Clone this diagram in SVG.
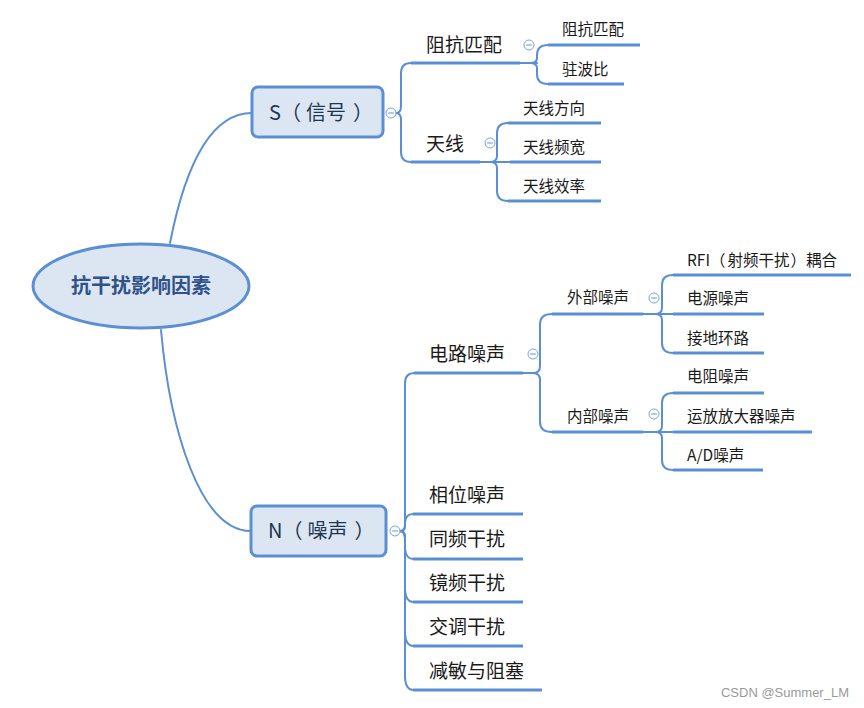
<svg xmlns="http://www.w3.org/2000/svg" width="864" height="708" viewBox="0 0 864 708">
<style>
.c{fill:none;stroke:#5b8fd4;stroke-width:2;stroke-linecap:round}
.u{fill:none;stroke:#5b8fd4;stroke-width:3;stroke-linecap:butt}
.node{fill:#dce6f2;stroke:#5b8fd4;stroke-width:3}
.t1{font-family:"Noto Sans CJK SC","Microsoft YaHei",sans-serif;font-size:19px;fill:#1a1a1a}
.t2{font-family:"Noto Sans CJK SC","Microsoft YaHei",sans-serif;font-size:15.5px;fill:#1a1a1a}
.tn{font-family:"Noto Sans CJK SC","Microsoft YaHei",sans-serif;font-size:20px;fill:#1e3550}
.tc{font-family:"Noto Sans CJK SC","Microsoft YaHei",sans-serif;font-size:20px;font-weight:bold;fill:#2f5288}
.col{fill:#fff;stroke:#7aa3db;stroke-width:1}
.colm{stroke:#7aa3db;stroke-width:1.2}
</style>
<defs>
<g id="collapse"><circle class="col" cx="0" cy="0" r="5"/><line class="colm" x1="-2.8" y1="0" x2="2.8" y2="0"/></g>
</defs>
<rect width="864" height="708" fill="#fff"/>
<g id="connectors">
<path class="c" d="M170,243 C184,172 208,113 252,113"/>
<path class="c" d="M161,330 C170,430 200,531 251,531"/>
<path class="c" d="M396,113 Q401,113 401,106 V73 Q401,63 411,63 H537"/>
<path class="c" d="M396,113 Q401,113 401,120 V152 Q401,162 411,162 H497"/>
<path class="c" d="M520,63 H530 Q537,63 537,58 V55 Q537,45 548,45"/>
<path class="c" d="M520,63 H530 Q537,63 537,68 V74 Q537,84 548,84"/>
<path class="c" d="M480,162 H510"/>
<path class="c" d="M480,162 H490 Q497,162 497,156 V133 Q497,123 508,123"/>
<path class="c" d="M480,162 H490 Q497,162 497,168 V191 Q497,201 508,201"/>
<path class="c" d="M400,531 Q405,531 405,524 V383 Q405,373 415,373"/>
<path class="c" d="M400,531 Q405,531 405,526 V524 Q405,514 413,514"/>
<path class="c" d="M400,531 Q405,531 405,538 V549 Q406,559 413,559"/>
<path class="c" d="M400,531 Q405,531 405,538 V590 Q406,602 413,602"/>
<path class="c" d="M400,531 Q405,531 405,538 V634 Q406,646 413,646"/>
<path class="c" d="M400,531 Q405,531 405,538 V678 Q406,690 413,690"/>
<path class="c" d="M523,373 H533 Q540,373 540,366 V324 Q540,314 552,314"/>
<path class="c" d="M523,373 H533 Q540,373 540,380 V422 Q540,432 552,432"/>
<path class="c" d="M643,314 H673"/>
<path class="c" d="M643,314 H655 Q662,314 662,308 V285 Q662,275 673,275"/>
<path class="c" d="M643,314 H655 Q662,314 662,320 V343 Q662,353 673,353"/>
<path class="c" d="M643,432 H673"/>
<path class="c" d="M643,432 H655 Q662,432 662,426 V403 Q662,393 673,393"/>
<path class="c" d="M643,432 H655 Q662,432 662,438 V460 Q662,470 673,470"/>
</g>
<g id="root">
<ellipse cx="141" cy="286" rx="108" ry="42" fill="#dce6f2" stroke="#5b8fd4" stroke-width="3"/>
<text class="tc" x="141" y="293" text-anchor="middle">抗干扰影响因素</text>
</g>
<g id="S">
<rect class="node" x="252" y="87" width="131" height="50" rx="6"/>
<text class="tn" x="269" y="120">S（<tspan dx="5">信号</tspan><tspan dx="7">）</tspan></text>
<use href="#collapse" x="391" y="113"/>
</g>
<g id="S-impedance">
<text class="t1" x="426" y="52">阻抗匹配</text>
<line class="u" x1="411" y1="63" x2="520" y2="63"/>
<use href="#collapse" x="529" y="45"/>
</g>
<g id="S-impedance-1"><text class="t2" x="562" y="35">阻抗匹配</text><line class="u" x1="548" y1="45" x2="640" y2="45"/></g>
<g id="S-impedance-2"><text class="t2" x="562" y="75">驻波比</text><line class="u" x1="548" y1="84" x2="624" y2="84"/></g>
<g id="S-antenna">
<text class="t1" x="426" y="151">天线</text>
<line class="u" x1="411" y1="162" x2="480" y2="162"/>
<use href="#collapse" x="490" y="143"/>
</g>
<g id="S-antenna-1"><text class="t2" x="523" y="114">天线方向</text><line class="u" x1="508" y1="123" x2="601" y2="123"/></g>
<g id="S-antenna-2"><text class="t2" x="523" y="153">天线频宽</text><line class="u" x1="510" y1="162" x2="601" y2="162"/></g>
<g id="S-antenna-3"><text class="t2" x="523" y="192">天线效率</text><line class="u" x1="508" y1="201" x2="601" y2="201"/></g>
<g id="N">
<rect class="node" x="251" y="506" width="135" height="50" rx="6"/>
<text class="tn" x="268" y="538">N（<tspan dx="5">噪声</tspan><tspan dx="7">）</tspan></text>
<use href="#collapse" x="395" y="531"/>
</g>
<g id="N-circuit">
<text class="t1" x="429" y="361">电路噪声</text>
<line class="u" x1="414" y1="373" x2="523" y2="373"/>
<use href="#collapse" x="533" y="354"/>
</g>
<g id="N-ext">
<text class="t2" x="567" y="303">外部噪声</text>
<line class="u" x1="552" y1="314" x2="643" y2="314"/>
<use href="#collapse" x="654" y="298"/>
</g>
<g id="N-ext-1"><text class="t2" x="687" y="266">RFI（<tspan dx="2">射频干扰</tspan><tspan dx="1">）耦合</tspan></text><line class="u" x1="673" y1="275" x2="851" y2="275"/></g>
<g id="N-ext-2"><text class="t2" x="687" y="304">电源噪声</text><line class="u" x1="673" y1="314" x2="764" y2="314"/></g>
<g id="N-ext-3"><text class="t2" x="687" y="344">接地环路</text><line class="u" x1="673" y1="353" x2="764" y2="353"/></g>
<g id="N-int">
<text class="t2" x="567" y="422">内部噪声</text>
<line class="u" x1="552" y1="432" x2="643" y2="432"/>
<use href="#collapse" x="654" y="414"/>
</g>
<g id="N-int-1"><text class="t2" x="687" y="382">电阻噪声</text><line class="u" x1="673" y1="393" x2="764" y2="393"/></g>
<g id="N-int-2"><text class="t2" x="687" y="422">运放放大器噪声</text><line class="u" x1="673" y1="432" x2="812" y2="432"/></g>
<g id="N-int-3"><text class="t2" x="687" y="461">A/D噪声</text><line class="u" x1="673" y1="470" x2="763" y2="470"/></g>
<g id="N-phase"><text class="t1" x="429" y="502">相位噪声</text><line class="u" x1="413" y1="514" x2="523" y2="514"/></g>
<g id="N-cochannel"><text class="t1" x="429" y="546">同频干扰</text><line class="u" x1="413" y1="559" x2="523" y2="559"/></g>
<g id="N-image"><text class="t1" x="429" y="590">镜频干扰</text><line class="u" x1="413" y1="602" x2="523" y2="602"/></g>
<g id="N-intermod"><text class="t1" x="429" y="634">交调干扰</text><line class="u" x1="413" y1="646" x2="523" y2="646"/></g>
<g id="N-desense"><text class="t1" x="429" y="678">减敏与阻塞</text><line class="u" x1="413" y1="690" x2="542" y2="690"/></g>
<text x="849" y="697" text-anchor="end" font-family="Liberation Sans, Arial, sans-serif" font-size="13" fill="#999">CSDN @Summer_LM</text>
</svg>
